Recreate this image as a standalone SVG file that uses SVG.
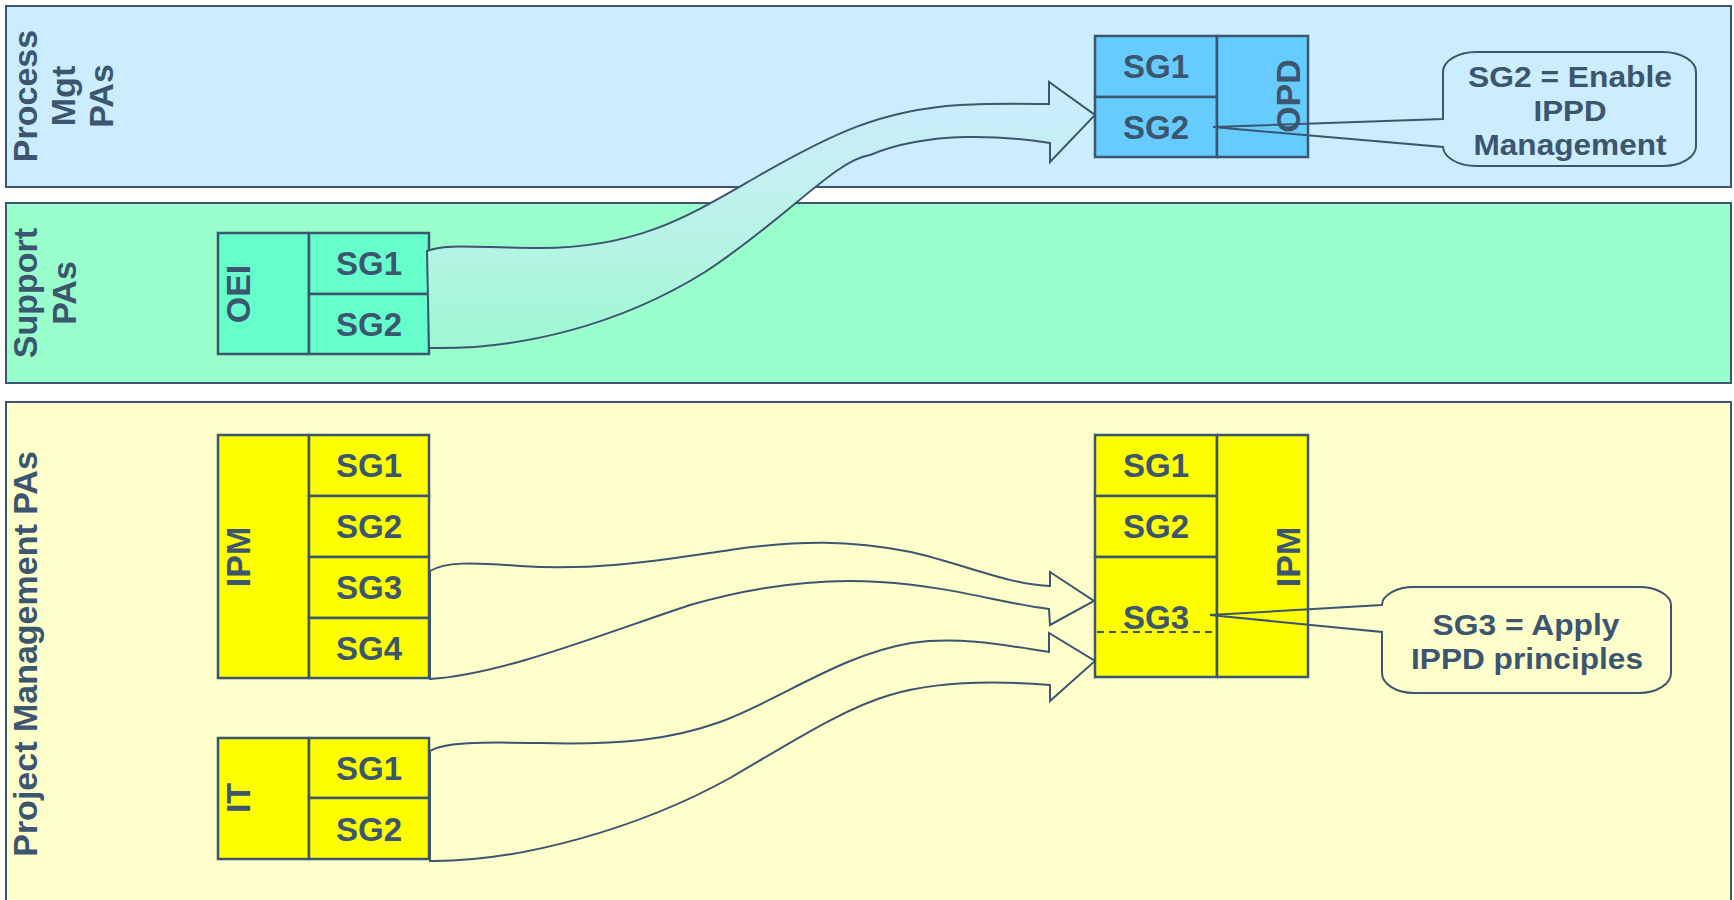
<svg xmlns="http://www.w3.org/2000/svg" width="1734" height="900" viewBox="0 0 1734 900">
<defs>
<style>
.lane{stroke:#3B566E;stroke-width:2}
.box{stroke:#3B566E;stroke-width:2.5}
.arr{stroke:#3B566E;stroke-width:2;stroke-linejoin:miter}
.call{fill:none;stroke:#3B566E;stroke-width:2}
text{font-family:"Liberation Sans",Arial,sans-serif;font-weight:bold;fill:#3B566E}
.sg{font-size:33px;text-anchor:middle}
.vl{font-size:34px;text-anchor:middle}
.ct{font-size:30px;text-anchor:middle}
</style>
<linearGradient id="gOEI" x1="0" y1="0" x2="0" y2="1">
<stop offset="0" stop-color="#CCECFF"/>
<stop offset="0.4" stop-color="#C2F1EE"/>
<stop offset="1" stop-color="#9EF8D2"/>
</linearGradient>
</defs>
<rect width="1734" height="900" fill="#FFFFFF"/>

<g id="lane-process">
<rect class="lane" x="6" y="6" width="1725" height="181" fill="#CCECFF"/>
<text class="vl" transform="translate(37,96) rotate(-90)">Process</text>
<text class="vl" transform="translate(75,96) rotate(-90)">Mgt</text>
<text class="vl" transform="translate(113,96) rotate(-90)">PAs</text>
</g>
<g id="lane-support">
<rect class="lane" x="6" y="203" width="1725" height="180" fill="#99FFCC"/>
<text class="vl" transform="translate(37,293) rotate(-90)">Support</text>
<text class="vl" transform="translate(76,293) rotate(-90)">PAs</text>
</g>
<g id="lane-project">
<rect class="lane" x="6" y="402" width="1725" height="510" fill="#FFFFCC"/>
<text class="vl" transform="translate(37,654) rotate(-90)">Project Management PAs</text>
</g>

<g id="node-opd">
<rect class="box" x="1095" y="36" width="122" height="61" fill="#66CCFF"/>
<rect class="box" x="1095" y="97" width="122" height="60" fill="#66CCFF"/>
<rect class="box" x="1217" y="36" width="91" height="121" fill="#66CCFF"/>
<text class="sg" x="1156" y="78">SG1</text>
<text class="sg" x="1156" y="139">SG2</text>
<text class="vl" transform="translate(1300,96) rotate(-90)">OPD</text>
</g>

<g id="node-oei">
<rect class="box" x="218" y="233" width="91" height="121" fill="#66FFCC"/>
<rect class="box" x="309" y="233" width="120" height="61" fill="#66FFCC"/>
<rect class="box" x="309" y="294" width="120" height="60" fill="#66FFCC"/>
<text class="vl" transform="translate(250,294) rotate(-90)">OEI</text>
<text class="sg" x="369" y="275">SG1</text>
<text class="sg" x="369" y="336">SG2</text>
</g>

<g id="node-ipm-left">
<rect class="box" x="218" y="435" width="91" height="243" fill="#FFFF00"/>
<rect class="box" x="309" y="435" width="120" height="61" fill="#FFFF00"/>
<rect class="box" x="309" y="496" width="120" height="61" fill="#FFFF00"/>
<rect class="box" x="309" y="557" width="120" height="61" fill="#FFFF00"/>
<rect class="box" x="309" y="618" width="120" height="60" fill="#FFFF00"/>
<text class="vl" transform="translate(250,557) rotate(-90)">IPM</text>
<text class="sg" x="369" y="477">SG1</text>
<text class="sg" x="369" y="538">SG2</text>
<text class="sg" x="369" y="599">SG3</text>
<text class="sg" x="369" y="660">SG4</text>
</g>

<g id="node-it">
<rect class="box" x="218" y="738" width="91" height="121" fill="#FFFF00"/>
<rect class="box" x="309" y="738" width="120" height="60" fill="#FFFF00"/>
<rect class="box" x="309" y="798" width="120" height="61" fill="#FFFF00"/>
<text class="vl" transform="translate(250,798) rotate(-90)">IT</text>
<text class="sg" x="369" y="780">SG1</text>
<text class="sg" x="369" y="841">SG2</text>
</g>

<g id="node-ipm-right">
<rect class="box" x="1095" y="435" width="122" height="61" fill="#FFFF00"/>
<rect class="box" x="1095" y="496" width="122" height="61" fill="#FFFF00"/>
<rect class="box" x="1095" y="557" width="122" height="120" fill="#FFFF00"/>
<rect class="box" x="1217" y="435" width="91" height="242" fill="#FFFF00"/>
<line x1="1097" y1="632" x2="1215" y2="632" stroke="#3B566E" stroke-width="2" stroke-dasharray="7,5"/>
<text class="sg" x="1156" y="629">SG3</text>
<text class="sg" x="1156" y="477">SG1</text>
<text class="sg" x="1156" y="538">SG2</text>
<text class="vl" transform="translate(1300,557) rotate(-90)">IPM</text>
</g>

<g id="connectors">
<path class="arr" fill="url(#gOEI)" d="M427,251 C445,243 480,248 540,248 C640,248 690,215 760,175 C830,135 880,110 960,105 C1000,103 1030,104 1049,104 L1049,82 L1095,115 L1050,162 L1050,143 C1005,136 930,130 870,155 C835,160 785,220 705,272 C620,325 520,350 429,348 Z"/>
<path class="arr" fill="#FFFFCC" d="M430,571 C445,562 470,562 520,566 C600,571 660,560 730,550 C800,540 850,540 911,552 C960,563 1010,585 1050,586 L1050,572 L1094,601 L1050,625 L1049,609 C1005,604 950,586 880,582 C820,578 760,585 690,605 C600,635 500,675 430,679 Z"/>
<path class="arr" fill="#FFFFCC" d="M430,751 C445,742 480,742 540,743 C620,745 670,740 720,722 C780,700 840,655 911,643 C960,636 1010,646 1049,652 L1049,633 L1095,661 L1050,701 L1050,685 C1000,681 940,680 890,695 C845,708 795,740 730,778 C640,828 520,862 430,861 Z"/>
</g>

<g id="callout-sg2">
<path class="call" d="M1443,119 L1213,127 L1443,147 A33 20 0 0 0 1476,166 L1663,166 A33 20 0 0 0 1696,146 L1696,72 A33 20 0 0 0 1663,52 L1476,52 A33 20 0 0 0 1443,72 Z"/>
<text class="ct" x="1570" y="87" textLength="204" lengthAdjust="spacingAndGlyphs">SG2 = Enable</text>
<text class="ct" x="1570" y="121" textLength="73" lengthAdjust="spacingAndGlyphs">IPPD</text>
<text class="ct" x="1570" y="155" textLength="193" lengthAdjust="spacingAndGlyphs">Management</text>
</g>

<g id="callout-sg3">
<path class="call" d="M1382,605 L1210,615 L1382,632 L1382,673 A32 20 0 0 0 1414,693 L1639,693 A32 20 0 0 0 1671,673 L1671,605 A32 18 0 0 0 1639,587 L1414,587 A32 18 0 0 0 1382,605 Z"/>
<text class="ct" x="1526" y="635" textLength="187" lengthAdjust="spacingAndGlyphs">SG3 = Apply</text>
<text class="ct" x="1527" y="669" textLength="232" lengthAdjust="spacingAndGlyphs">IPPD principles</text>
</g>
</svg>
